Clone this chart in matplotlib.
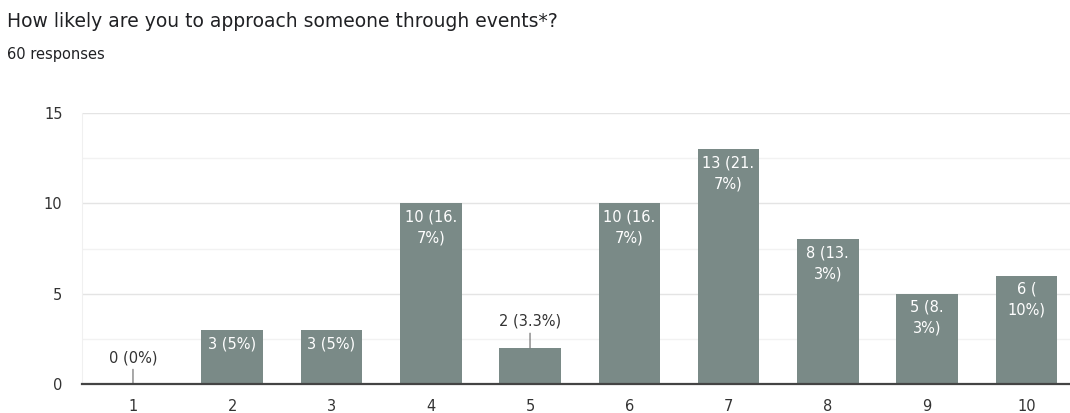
import matplotlib.pyplot as plt
from matplotlib.ticker import MultipleLocator

plt.rcParams['font.family'] = ['DejaVu Sans']

scores = [1, 2, 3, 4, 5, 6, 7, 8, 9, 10]
counts = [0, 3, 3, 10, 2, 10, 13, 8, 5, 6]
labels = ['0 (0%)', '3 (5%)', '3 (5%)', '10 (16.\n7%)', '2 (3.3%)',
          '10 (16.\n7%)', '13 (21.\n7%)', '8 (13.\n3%)', '5 (8.\n3%)', '6 (\n10%)']
total = 60

bar_color = '#7a8a87'

fig = plt.figure(figsize=(10.7, 4.13), dpi=100)
ax = fig.add_axes([0.0766, 0.0702, 0.9234, 0.6562])

ax.bar(scores, counts, width=0.62, color=bar_color, zorder=2)

for x, c, lab in zip(scores, counts, labels):
    if c >= 3:
        # label sits inside the top of the bar
        ax.annotate(lab, (x, c), xytext=(0, -4.5), textcoords='offset points',
                    ha='center', va='top', color='white', fontsize=10.5,
                    linespacing=1.5, zorder=3)
    else:
        # short bars get the label above with a leader line
        ax.annotate(lab, (x, c), xytext=(0, 19), textcoords='offset points',
                    ha='center', va='center', color='#333333', fontsize=10.5,
                    arrowprops=dict(arrowstyle='-', color='#666666', lw=0.8,
                                    shrinkA=1, shrinkB=0),
                    zorder=3)

ax.set_xlim(0.486, 10.44)
ax.set_ylim(0, 15)
ax.set_xticks(scores)
ax.yaxis.set_major_locator(MultipleLocator(5))
ax.yaxis.set_minor_locator(MultipleLocator(2.5))
ax.grid(axis='y', which='major', color='#e4e4e4', lw=1, zorder=0)
ax.grid(axis='y', which='minor', color='#f2f2f2', lw=1, zorder=0)

for s in ['top', 'right']:
    ax.spines[s].set_visible(False)
ax.spines['left'].set_color('#f0f0f0')
ax.spines['bottom'].set_color('#444444')
ax.spines['bottom'].set_linewidth(1.6)
ax.spines['bottom'].set_zorder(4)

ax.tick_params(axis='both', which='both', length=0, labelsize=10.5, colors='#333333')
ax.tick_params(axis='y', pad=14)
ax.tick_params(axis='x', pad=11)

fig.text(0.0065, 0.947, 'How likely are you to approach someone through events*?',
         fontsize=13.5, color='#202124', va='center')
fig.text(0.0065, 0.869, f'{total} responses', fontsize=10.5, color='#202124', va='center')

fig.savefig('out.png', dpi=100)
